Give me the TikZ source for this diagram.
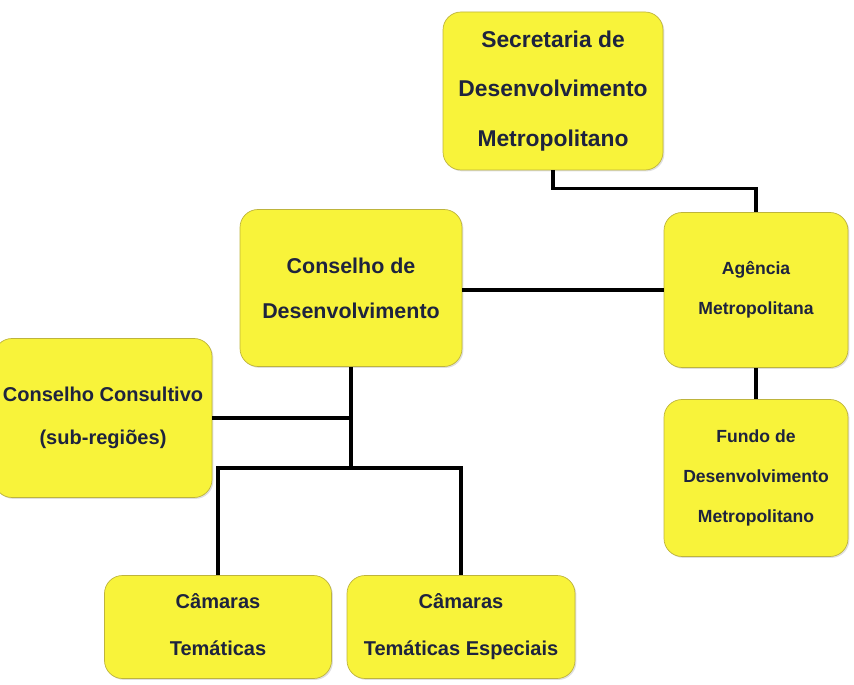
\documentclass[tikz,border=0pt]{standalone}
\usepackage{fontspec}
\setmainfont{Liberation Sans}
\usepackage{tikz}
\usetikzlibrary{calc,shadows,positioning}
\definecolor{boxfill}{RGB}{248,243,58}
\definecolor{boxedge}{RGB}{190,180,60}
\definecolor{ink}{RGB}{30,35,62}
\tikzstyle{box} = [rectangle, rounded corners=0.36cm, fill=boxfill, draw=boxedge, thin, align=center, inner sep=0pt, text=ink, drop shadow={opacity=0.25, shadow xshift=0.8pt, shadow yshift=-0.8pt}]
\tikzstyle{big} = [font=\bfseries\fontsize{13}{28}\selectfont]
\tikzstyle{mid} = [font=\bfseries\fontsize{11.4}{25}\selectfont]
\tikzstyle{sml} = [font=\bfseries\fontsize{10}{22.8}\selectfont]
\tikzstyle{link} = [black, line width=2pt]

\begin{document}
\begin{tikzpicture}[x=0.02cm, y=-0.02cm]
		\useasboundingbox (0,0) rectangle (854,685);

		% boxes
		\node[box, big, minimum width=220*0.02cm, minimum height=158*0.02cm] (sec) at (553,91) {Secretaria de\\Desenvolvimento\\Metropolitano};
		\node[box, font=\bfseries\fontsize{12.2}{25.6}\selectfont, minimum width=222*0.02cm, minimum height=157*0.02cm] (cde) at (351,288) {Conselho de\\Desenvolvimento};
		\node[box, sml, minimum width=184*0.02cm, minimum height=155*0.02cm] (age) at (756,290) {Agência\\Metropolitana\vphantom{g}};
		\node[box, mid, font=\bfseries\fontsize{11.4}{24.5}\selectfont, minimum width=218*0.02cm, minimum height=159*0.02cm] (ccs) at (103,418) {Conselho Consultivo\\(sub-regiões)};
		\node[box, sml, minimum width=184*0.02cm, minimum height=157*0.02cm] (fdm) at (756,478) {Fundo de\\Desenvolvimento\\Metropolitano};
		\node[box, mid, font=\bfseries\fontsize{11.4}{26.7}\selectfont, minimum width=227*0.02cm, minimum height=103*0.02cm] (cte) at (218,627) {Câmaras\\Temáticas\vphantom{p}};
		\node[box, mid, font=\bfseries\fontsize{11.4}{26.7}\selectfont, minimum width=228*0.02cm, minimum height=103*0.02cm] (cee) at (461,627) {Câmaras\\Temáticas Especiais};

		% connectors
		\coordinate (split) at ($(cde.south)+(0,101)$);
		\draw[link] (sec.south) -- ++(0,18) -| (age.north);
		\draw[link] (cde.east |- age.west) -- (age.west);
		\draw[link] (age.south) -- (fdm.north);
		\draw[link] (ccs.east) -| (cde.south);
		\draw[link] (cde.south) -- (split);
		\draw[link] (split) -| (cte.north);
		\draw[link] (split) -| (cee.north);
	\end{tikzpicture}
\end{document}
